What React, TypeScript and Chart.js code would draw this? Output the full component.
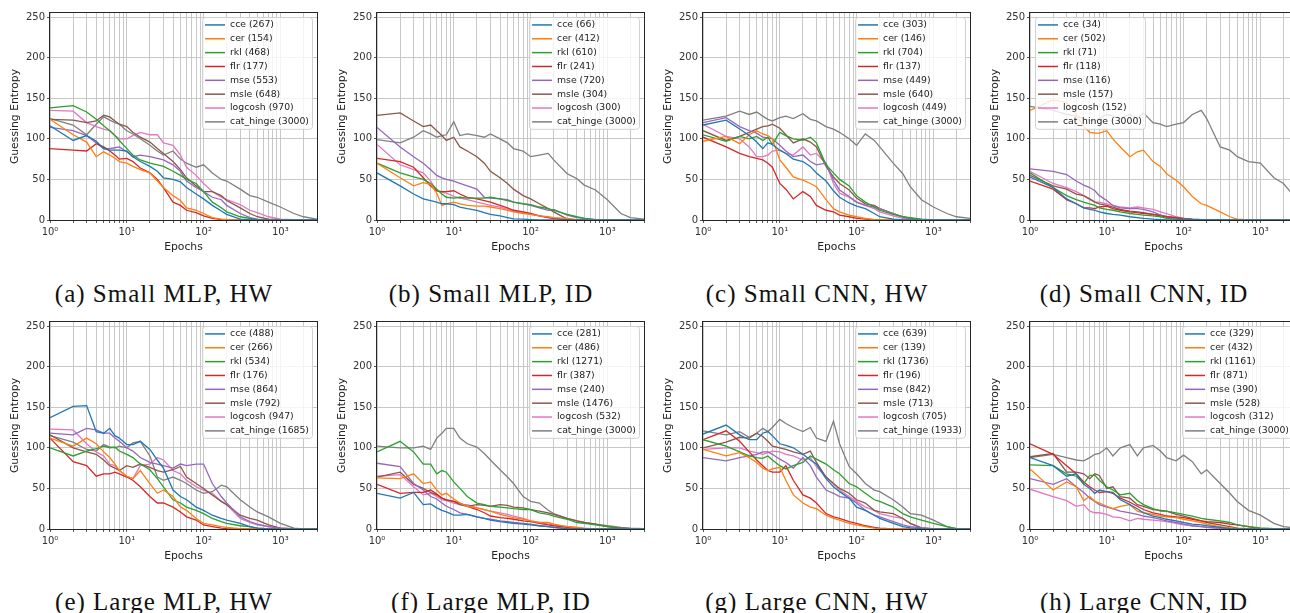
import React, { useEffect, useRef } from 'react';
import { Chart, registerables } from 'chart.js';
Chart.register(...registerables);

// ---------------- DATA ----------------
const epochs = [1, 2, 3, 4, 5, 6, 7, 8, 10, 12, 15, 20, 25, 30, 40, 50, 60, 80, 100, 130, 170, 200, 300, 400, 500, 700, 1000, 1500, 2000, 3000];
const lossNames = ['cce', 'cer', 'rkl', 'flr', 'mse', 'msle', 'logcosh', 'cat_hinge'];
const lossColors = ['#1f77b4', '#ff7f0e', '#2ca02c', '#d62728', '#9467bd', '#8c564b', '#e377c2', '#7f7f7f'];
const yTickValues = [0, 50, 100, 150, 200, 250];
const xGridValues = [1, 2, 3, 4, 5, 6, 7, 8, 9, 10, 20, 30, 40, 50, 60, 70, 80, 90, 100, 200, 300, 400, 500, 600, 700, 800, 900, 1000, 2000, 3000];
const captions = ['(a) Small MLP, HW', '(b) Small MLP, ID', '(c) Small CNN, HW', '(d) Small CNN, ID', '(e) Large MLP, HW', '(f) Large MLP, ID', '(g) Large CNN, HW', '(h) Large CNN, ID'];

// (a) Small MLP, HW
const countsA = [267, 154, 468, 177, 553, 648, 970, 3000];
const smallMlpHw = [
  [116, 98, 104, 97, 88, 86, 86, 86, 85, 78, 72, 66, 60, 52, 50, 47, 40, 32, 26, 18, 11, 7, 1, 0.5, 0, 0, 0, 0, 0, 0],
  [124, 105, 96, 78, 84, 80, 76, 72, 70, 66, 62, 58, 48, 40, 30, 24, 15, 12, 8, 3, 1, 0.5, 0, 0, 0, 0, 0, 0, 0, 0],
  [138, 141, 133, 124, 116, 110, 104, 98, 88, 80, 74, 70, 68, 66, 60, 55, 50, 45, 35, 22, 15, 10, 4, 2, 0.5, 0, 0, 0, 0, 0],
  [88, 86, 85, 94, 90, 85, 80, 75, 76, 72, 64, 58, 50, 40, 22, 18, 12, 9, 5, 2, 0.5, 0, 0, 0, 0, 0, 0, 0, 0, 0],
  [114, 110, 104, 95, 88, 88, 89, 90, 84, 78, 80, 78, 76, 74, 68, 60, 48, 40, 35, 28, 25, 18, 8, 3, 1, 0, 0, 0, 0, 0],
  [124, 123, 120, 122, 129, 127, 122, 118, 115, 108, 102, 96, 88, 82, 72, 62, 52, 42, 35, 35, 30, 24, 15, 8, 4, 1, 0.5, 0, 0, 0],
  [135, 134, 120, 115, 112, 110, 104, 100, 100, 104, 108, 105, 105, 95, 92, 80, 65, 55, 45, 35, 28, 25, 19, 12, 9, 4, 1, 0.5, 0, 0],
  [125, 117, 105, 118, 127, 123, 120, 118, 110, 106, 100, 92, 85, 80, 85, 75, 70, 65, 68, 58, 50, 48, 38, 30, 28, 22, 16, 8, 4, 1],
];

// (b) Small MLP, ID
const countsB = [66, 412, 610, 241, 720, 304, 300, 3000];
const smallMlpId = [
  [58, 42, 32, 26, 24, 22, 20, 20, 19, 16, 14, 12, 9, 7, 5, 3, 1.5, 1, 0.5, 0, 0, 0, 0, 0, 0, 0, 0, 0, 0, 0],
  [70, 52, 42, 46, 44, 33, 18, 20, 22, 20, 18, 17, 17, 16, 14, 12, 10, 8, 7, 5, 4, 3, 2, 0.5, 0, 0, 0, 0, 0, 0],
  [70, 58, 53, 50, 45, 38, 32, 28, 27, 28, 27, 27, 27, 28, 26, 24, 22, 20, 19, 16, 14, 12, 7, 4, 2, 0.5, 0, 0, 0, 0],
  [76, 72, 65, 52, 42, 36, 35, 35, 36, 32, 28, 26, 24, 22, 18, 15, 12, 10, 8, 5, 3, 2, 0, 0, 0, 0, 0, 0, 0, 0],
  [114, 90, 78, 70, 62, 55, 52, 50, 48, 45, 42, 38, 28, 27, 26, 25, 22, 20, 18, 15, 12, 13, 6, 3, 2, 0.5, 0, 0, 0, 0],
  [129, 132, 122, 115, 117, 110, 104, 98, 102, 90, 85, 78, 70, 60, 52, 45, 38, 30, 26, 20, 14, 10, 1, 0, 0, 0, 0, 0, 0, 0],
  [93, 68, 62, 58, 48, 36, 34, 33, 29, 27, 25, 22, 20, 18, 16, 13, 11, 9, 7, 5, 3, 2, 1, 0, 0, 0, 0, 0, 0, 0],
  [99, 95, 102, 110, 106, 102, 104, 105, 121, 104, 106, 104, 102, 106, 100, 95, 88, 85, 78, 80, 82, 74, 57, 51, 43, 37, 25, 8, 3, 1],
];

// (c) Small CNN, HW
const countsC = [303, 146, 704, 137, 449, 640, 449, 3000];
const smallCnnHw = [
  [117, 123, 112, 104, 96, 88, 95, 93, 86, 82, 75, 72, 66, 58, 48, 36, 28, 21, 17, 14, 8, 4, 1, 0, 0, 0, 0, 0, 0, 0],
  [97, 103, 94, 105, 110, 106, 104, 100, 74, 65, 53, 49, 45, 41, 25, 14, 10, 6, 4, 2, 0.5, 0, 0, 0, 0, 0, 0, 0, 0, 0],
  [105, 97, 103, 100, 103, 98, 102, 93, 108, 104, 100, 98, 102, 95, 68, 58, 50, 42, 30, 22, 16, 12, 7, 4, 3, 1, 0, 0, 0, 0],
  [102, 90, 82, 78, 76, 74, 70, 65, 45, 38, 26, 35, 29, 18, 12, 10, 6, 4, 2, 1, 0.5, 0, 0, 0, 0, 0, 0, 0, 0, 0],
  [120, 126, 115, 110, 107, 102, 101, 100, 92, 85, 78, 80, 72, 68, 70, 49, 37, 29, 22, 18, 16, 14, 8, 4, 1.5, 0.5, 0, 0, 0, 0],
  [110, 98, 103, 108, 112, 115, 116, 118, 113, 105, 95, 100, 96, 90, 66, 53, 45, 37, 27, 20, 18, 14, 8, 4, 2, 0.5, 0, 0, 0, 0],
  [118, 103, 100, 90, 78, 78, 80, 85, 86, 82, 80, 90, 80, 82, 70, 45, 33, 28, 22, 18, 14, 10, 5, 2, 1, 0.5, 0, 0, 0, 0],
  [123, 128, 134, 130, 133, 128, 124, 122, 126, 128, 125, 131, 124, 122, 115, 112, 108, 100, 92, 106, 98, 90, 70, 57, 41, 25, 16, 8, 4, 2],
];

// (d) Small CNN, ID
const countsD = [34, 502, 71, 118, 116, 157, 152, 3000];
const smallCnnId = [
  [53, 40, 26, 20, 15, 13, 12, 10, 8, 7, 6, 4, 3, 2, 1, 0.5, 0, 0, 0, 0, 0, 0, 0, 0, 0, 0, 0, 0, 0, 0],
  [135, 148, 145, 130, 115, 108, 107, 107, 110, 100, 90, 78, 84, 86, 72, 66, 57, 49, 41, 29, 20, 18, 10, 4, 1, 0, 0, 0, 0, 0],
  [58, 40, 30, 25, 22, 20, 18, 15, 13, 12, 10, 8, 7, 6, 5, 4, 2, 1, 0.5, 0, 0, 0, 0, 0, 0, 0, 0, 0, 0, 0],
  [48, 38, 25, 20, 15, 15, 14, 16, 17, 14, 12, 10, 9, 8, 7, 5, 4, 3, 1, 0.5, 0, 0, 0, 0, 0, 0, 0, 0, 0, 0],
  [63, 60, 56, 48, 43, 40, 36, 30, 24, 18, 15, 14, 14, 13, 10, 6, 4, 2, 1, 0.5, 0, 0, 0, 0, 0, 0, 0, 0, 0, 0],
  [55, 42, 38, 32, 30, 26, 22, 20, 18, 16, 13, 11, 10, 9, 7, 6, 4, 3, 2, 1, 0.5, 0, 0, 0, 0, 0, 0, 0, 0, 0],
  [60, 45, 40, 35, 30, 25, 22, 22, 20, 18, 16, 15, 16, 15, 13, 10, 8, 4, 2, 1, 0.5, 0, 0, 0, 0, 0, 0, 0, 0, 0],
  [140, 135, 130, 128, 125, 123, 122, 125, 130, 128, 125, 130, 125, 132, 120, 118, 115, 118, 120, 130, 135, 125, 90, 86, 78, 72, 70, 52, 45, 25],
];

// (e) Large MLP, HW
const countsE = [488, 266, 534, 176, 864, 792, 947, 1685];
const largeMlpHw = [
  [137, 151, 152, 120, 118, 124, 115, 112, 104, 104, 108, 98, 85, 75, 48, 40, 36, 27, 23, 17, 13, 11, 7, 3, 1, 0, 0, 0, 0, 0],
  [112, 102, 112, 105, 95, 88, 80, 72, 65, 62, 72, 56, 44, 48, 40, 27, 23, 13, 7, 5, 3, 2, 0.5, 0, 0, 0, 0, 0, 0, 0],
  [100, 90, 96, 99, 102, 100, 101, 96, 92, 88, 80, 73, 62, 52, 36, 32, 27, 23, 19, 13, 9, 7, 4, 3, 1, 0, 0, 0, 0, 0],
  [112, 83, 78, 65, 68, 68, 70, 68, 64, 60, 52, 40, 32, 32, 27, 21, 15, 11, 5, 3, 1, 0.5, 0, 0, 0, 0, 0, 0, 0, 0],
  [118, 116, 124, 122, 118, 118, 112, 108, 100, 96, 88, 82, 80, 78, 75, 80, 78, 80, 80, 56, 40, 32, 15, 9, 6, 3, 1, 0.5, 0, 0],
  [116, 100, 95, 92, 85, 78, 75, 72, 78, 76, 80, 76, 72, 70, 73, 77, 64, 56, 50, 42, 34, 30, 17, 13, 11, 5, 1, 0, 0, 0],
  [123, 122, 105, 95, 90, 80, 78, 72, 65, 62, 78, 80, 88, 85, 72, 68, 60, 52, 48, 44, 34, 30, 13, 8, 5, 3, 1, 0, 0, 0],
  [115, 107, 98, 96, 104, 101, 100, 102, 100, 106, 108, 90, 64, 60, 64, 60, 56, 48, 44, 46, 54, 52, 36, 27, 21, 15, 7, 1, 0, 0],
];

// (f) Large MLP, ID
const countsF = [281, 486, 1271, 387, 240, 1476, 532, 3000];
const largeMlpId = [
  [44, 38, 45, 30, 31, 26, 23, 21, 17, 17, 18, 15, 13, 11, 9, 8, 7, 6, 5, 4, 3, 2, 0.5, 0, 0, 0, 0, 0, 0, 0],
  [63, 62, 68, 56, 58, 48, 42, 44, 37, 32, 28, 26, 24, 22, 18, 16, 14, 12, 10, 8, 8, 6, 3, 2, 0.5, 0, 0, 0, 0, 0],
  [95, 108, 95, 80, 80, 68, 72, 70, 58, 50, 40, 32, 30, 28, 27, 26, 25, 24, 24, 20, 18, 16, 12, 8, 7, 5, 3, 0.5, 0, 0],
  [55, 44, 45, 45, 48, 43, 38, 36, 34, 32, 28, 24, 20, 16, 14, 13, 12, 10, 9, 7, 5, 4, 2, 0.5, 0, 0, 0, 0, 0, 0],
  [81, 77, 56, 48, 40, 37, 32, 28, 24, 20, 18, 15, 13, 12, 10, 9, 8, 7, 6, 4, 3, 2, 0, 0, 0, 0, 0, 0, 0, 0],
  [64, 70, 55, 50, 45, 42, 38, 36, 34, 30, 28, 30, 29, 28, 30, 29, 27, 26, 24, 22, 20, 18, 13, 10, 8, 6, 3, 1, 0.5, 0],
  [65, 67, 52, 42, 44, 40, 36, 35, 32, 30, 30, 26, 24, 22, 20, 18, 16, 13, 10, 8, 6, 5, 3, 2, 1, 0, 0, 0, 0, 0],
  [102, 100, 100, 102, 98, 112, 118, 124, 124, 112, 105, 101, 93, 85, 73, 64, 56, 40, 34, 32, 23, 19, 13, 10, 8, 6, 4, 2, 1, 0.5],
];

// (g) Large CNN, HW
const countsG = [639, 139, 1736, 196, 842, 713, 705, 1933];
const largeCnnHw = [
  [117, 128, 116, 110, 110, 118, 120, 115, 105, 103, 100, 92, 85, 80, 62, 52, 46, 38, 27, 23, 17, 13, 7, 3, 1.5, 0.5, 0, 0, 0, 0],
  [98, 90, 94, 88, 82, 75, 72, 74, 76, 60, 42, 32, 27, 25, 17, 13, 11, 7, 5, 3, 1, 0.5, 0, 0, 0, 0, 0, 0, 0, 0],
  [110, 102, 95, 90, 88, 87, 90, 85, 78, 74, 78, 82, 90, 86, 80, 73, 68, 56, 52, 44, 36, 34, 27, 19, 15, 11, 7, 3, 0.5, 0],
  [110, 121, 108, 95, 85, 78, 72, 70, 70, 78, 60, 42, 38, 32, 19, 15, 13, 9, 7, 4, 2, 1, 0, 0, 0, 0, 0, 0, 0, 0],
  [88, 84, 88, 90, 92, 95, 95, 92, 86, 82, 75, 88, 78, 64, 48, 44, 40, 38, 32, 23, 17, 15, 9, 5, 3, 1.5, 0.5, 0, 0, 0],
  [100, 107, 113, 112, 118, 114, 108, 102, 100, 98, 95, 92, 96, 82, 64, 56, 50, 44, 36, 32, 23, 21, 19, 13, 7, 1.5, 0, 0, 0, 0],
  [98, 100, 100, 96, 94, 92, 94, 96, 95, 92, 90, 85, 88, 77, 64, 56, 48, 40, 34, 27, 23, 19, 15, 13, 7, 1, 0, 0, 0, 0],
  [121, 116, 120, 113, 118, 124, 120, 125, 135, 130, 125, 120, 125, 112, 108, 133, 105, 77, 68, 56, 48, 46, 36, 27, 19, 17, 11, 3, 0.5, 0],
];

// (h) Large CNN, ID
const countsH = [329, 432, 1161, 871, 390, 528, 312, 3000];
const largeCnnId = [
  [88, 78, 65, 68, 55, 50, 44, 48, 46, 45, 36, 30, 25, 20, 16, 14, 12, 10, 8, 6, 5, 4, 2, 0.5, 0, 0, 0, 0, 0, 0],
  [74, 48, 58, 52, 35, 40, 34, 32, 28, 25, 28, 30, 22, 20, 18, 16, 15, 14, 12, 10, 8, 6, 3, 1.5, 0.5, 0, 0, 0, 0, 0],
  [79, 78, 68, 65, 56, 66, 66, 60, 52, 48, 42, 44, 35, 30, 25, 22, 22, 20, 18, 16, 13, 12, 10, 8, 5, 3, 1.5, 0.5, 0, 0],
  [105, 92, 78, 68, 58, 52, 48, 45, 46, 44, 38, 33, 28, 24, 20, 18, 16, 15, 14, 12, 10, 9, 8, 6, 5, 3, 0.5, 0, 0, 0],
  [62, 55, 62, 52, 45, 38, 34, 30, 27, 25, 22, 20, 18, 16, 14, 12, 10, 8, 6, 4, 3, 2, 1, 0.5, 0, 0, 0, 0, 0, 0],
  [89, 93, 70, 70, 68, 62, 68, 66, 50, 52, 40, 38, 30, 28, 24, 23, 22, 18, 16, 13, 10, 8, 5, 3, 1, 0.5, 0, 0, 0, 0],
  [49, 40, 35, 28, 30, 22, 20, 20, 18, 15, 14, 10, 13, 12, 11, 10, 9, 7, 5, 4, 3, 2, 0.5, 0, 0, 0, 0, 0, 0, 0],
  [88, 92, 88, 85, 84, 88, 92, 93, 100, 90, 100, 104, 90, 100, 103, 96, 88, 84, 91, 83, 68, 73, 56, 44, 34, 23, 17, 7, 3, 1],
];

const panelSeries = [smallMlpHw, smallMlpId, smallCnnHw, smallCnnId, largeMlpHw, largeMlpId, largeCnnHw, largeCnnId];
const panelCounts = [countsA, countsB, countsC, countsD, countsE, countsF, countsG, countsH];
const legendOnLeft = [false, false, false, true, false, false, false, false];

// ---------------- LAYOUT ----------------
const COL_LEFTS = [50, 377, 703, 1030];
const ROW_TOPS = [13, 322];
const PLOT_W = 268;
const PLOT_H = 207;
const Y_AXIS_W = 50;
const X_AXIS_H = 36;
const CAPTION_CENTER_Y = [294, 602];

const SUP: Record<string, string> = { '0': '⁰', '1': '¹', '2': '²', '3': '³', '4': '⁴' };

const frameLegendPlugin = {
  id: 'frameLegend',
  afterDatasetsDraw(chart: any, _args: any, opts: any) {
    const { ctx, chartArea } = chart;
    const { left, right, top, bottom } = chartArea;
    ctx.save();
    ctx.strokeStyle = '#262626';
    ctx.lineWidth = 1;
    ctx.strokeRect(Math.round(left) - 0.5, Math.round(top) - 0.5, Math.round(right - left) + 1, Math.round(bottom - top) + 1);
    const labels: string[] = chart.data.datasets.map((d: any) => d.label);
    const colors: string[] = chart.data.datasets.map((d: any) => d.borderColor);
    ctx.font = '9.3px "DejaVu Sans"';
    let tw = 0;
    labels.forEach((l) => { tw = Math.max(tw, ctx.measureText(l).width); });
    const rowH = 13.85;
    const boxW = 3 + 20 + 5 + tw + 3;
    const boxH = labels.length * rowH + 1;
    const x0 = opts.left ? left + 5 : right - 5 - boxW;
    const y0 = top + 4;
    ctx.beginPath();
    if ((ctx as any).roundRect) (ctx as any).roundRect(x0 + 0.5, y0 + 0.5, boxW, boxH, 3);
    else ctx.rect(x0 + 0.5, y0 + 0.5, boxW, boxH);
    ctx.fillStyle = 'rgba(255,255,255,0.8)';
    ctx.fill();
    ctx.strokeStyle = '#d0d0d0';
    ctx.lineWidth = 1;
    ctx.stroke();
    ctx.textBaseline = 'middle';
    ctx.textAlign = 'left';
    labels.forEach((l, i) => {
      const cy = y0 + rowH * (i + 0.5) + 1;
      ctx.strokeStyle = colors[i];
      ctx.lineWidth = 1.5;
      ctx.beginPath();
      ctx.moveTo(x0 + 3, cy);
      ctx.lineTo(x0 + 23, cy);
      ctx.stroke();
      ctx.fillStyle = '#222';
      ctx.fillText(l, x0 + 28, cy);
    });
    ctx.restore();
  },
};

function Panel({ idx }: { idx: number }) {
  const ref = useRef<HTMLCanvasElement>(null);
  const col = idx % 4;
  const row = Math.floor(idx / 4);
  const plotLeft = COL_LEFTS[col];
  const plotTop = ROW_TOPS[row];
  const cw = Y_AXIS_W + PLOT_W + 2;
  const ch = 13 + PLOT_H + X_AXIS_H;

  useEffect(() => {
    const series = panelSeries[idx];
    const counts = panelCounts[idx];
    const tickFont = { family: 'DejaVu Sans', size: 10 };
    const titleFont = { family: 'DejaVu Sans', size: 10.8 };
    const chart = new Chart(ref.current as HTMLCanvasElement, {
      type: 'line',
      data: {
        datasets: lossNames.map((n, i) => ({
          label: `${n} (${counts[i]})`,
          data: epochs.map((e, j) => ({ x: e, y: series[i][j] })),
          borderColor: lossColors[i],
          backgroundColor: lossColors[i],
          borderWidth: 1.3,
          pointRadius: 0,
          tension: 0,
          fill: false,
        })),
      },
      options: {
        animation: false,
        responsive: false,
        devicePixelRatio: 1,
        layout: { padding: { left: 0, right: 2, top: 13, bottom: 0 } },
        plugins: {
          legend: { display: false },
          tooltip: { enabled: false },
          frameLegend: { left: legendOnLeft[idx] },
        } as any,
        scales: {
          x: {
            type: 'logarithmic',
            min: 1,
            max: 3000,
            afterBuildTicks: (s: any) => { s.ticks = xGridValues.map((v) => ({ value: v })); },
            afterFit: (s: any) => { s.height = X_AXIS_H; },
            ticks: {
              autoSkip: false,
              maxRotation: 0,
              padding: 3,
              font: tickFont,
              color: '#333',
              callback: (v: any) => {
                const l = Math.log10(Number(v));
                if (Math.abs(l - Math.round(l)) < 1e-9) return '10' + SUP[String(Math.round(l))];
                return '';
              },
            },
            grid: { color: '#c2c2c2', lineWidth: 0.9, tickLength: 3, tickColor: '#444' },
            border: { display: false },
            title: { display: true, text: 'Epochs', font: titleFont, color: '#222', padding: { top: 0, bottom: 2.5 } },
          } as any,
          y: {
            type: 'linear',
            min: 0,
            max: 255,
            afterBuildTicks: (s: any) => { s.ticks = yTickValues.map((v) => ({ value: v })); },
            afterFit: (s: any) => { s.width = Y_AXIS_W; },
            ticks: { padding: 2, font: tickFont, color: '#333' },
            grid: { color: '#c2c2c2', lineWidth: 0.9, tickLength: 3, tickColor: '#444' },
            border: { display: false },
            title: { display: true, text: 'Guessing Entropy', font: titleFont, color: '#222', padding: { top: 9, bottom: 0 } },
          } as any,
        },
      },
      plugins: [frameLegendPlugin],
    });
    return () => chart.destroy();
  }, [idx]);

  const captionCenterX = plotLeft + PLOT_W / 2 - 20;
  return (
    <>
      <canvas
        ref={ref}
        width={cw}
        height={ch}
        style={{ position: 'absolute', left: plotLeft - Y_AXIS_W, top: plotTop - 13, width: cw, height: ch }}
      />
      <div
        style={{
          position: 'absolute',
          left: captionCenterX - 200,
          top: CAPTION_CENTER_Y[row] - 15,
          width: 400,
          height: 30,
          lineHeight: '30px',
          textAlign: 'center',
          fontFamily: '"Liberation Serif", serif',
          fontSize: 25,
          letterSpacing: '1px',
          color: '#111',
          whiteSpace: 'nowrap',
        }}
      >
        {captions[idx]}
      </div>
    </>
  );
}

export default function App() {
  return (
    <div style={{ position: 'absolute', left: 0, top: 0, width: 1290, height: 613, overflow: 'hidden', background: '#fff' }}>
      {[0, 1, 2, 3, 4, 5, 6, 7].map((i) => (
        <Panel key={i} idx={i} />
      ))}
    </div>
  );
}
